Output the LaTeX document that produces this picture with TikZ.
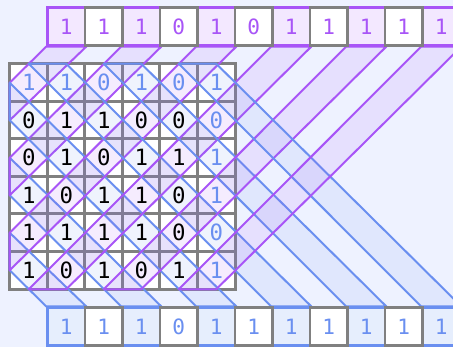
\documentclass[tikz,border=0pt]{standalone}
\usepackage{fontspec}
\setmonofont{DejaVu Sans Mono}
\usetikzlibrary{calc}
\definecolor{Back}{HTML}{EEF2FF}
\definecolor{Grid}{HTML}{808080}
\definecolor{Violet}{HTML}{A855F7}
\definecolor{PaleViolet}{HTML}{F3E8FF}
\definecolor{Cobalt}{HTML}{6A8FF0}
\definecolor{PaleCobalt}{HTML}{E6EEFD}
\pgfdeclarelayer{cells}
\pgfdeclarelayer{bands}
\pgfsetlayers{cells,bands,main}
\tikzset{
  bit/.style={minimum size=1cm,inner sep=0pt,font=\ttfamily\fontsize{17}{17}\selectfont},
  cellframe/.style={draw=Grid,fill=white,line width=2pt},
  sumbox/.style={draw=Grid,fill=white,line width=2pt,minimum size=1cm,inner sep=0pt,font=\ttfamily\fontsize{16}{16}\selectfont},
  topbox/.style={sumbox,text=Violet},
  topmark/.style={topbox,draw=Violet,fill=PaleViolet},
  botbox/.style={sumbox,text=Cobalt},
  botmark/.style={botbox,draw=Cobalt,fill=PaleCobalt},
  antiband/.style={draw=Violet,fill=Violet,fill opacity=.11,line width=1.5pt,line join=round},
  diagband/.style={draw=Cobalt,fill=Cobalt,fill opacity=.1,line width=1.5pt,line join=round}
}

\begin{document}
\begin{tikzpicture}[x=1cm,y=1cm]
  \useasboundingbox (-0.2667,-7.5467) rectangle (11.8133,1.7067);
  % the 6x6 matrix, first row and last column in blue
  \foreach \row [count=\i from 0] in {{1,1,0,1,0,1},{0,1,1,0,0,0},{0,1,0,1,1,1},{1,0,1,1,0,1},{1,1,1,1,0,0},{1,0,1,0,1,1}} {
    \foreach \v [count=\j from 0] in \row {
      \pgfmathtruncatemacro\edge{(\i==0)||(\j==5)}
      \ifnum\edge=1 \def\ink{Cobalt}\else\def\ink{black}\fi
      \node[bit,text=\ink] (m-\i-\j) at (\j+.5,-\i-.5) {\v};
    }
  }
  % sums along the anti-diagonals (top) and diagonals (bottom)
  \foreach \k/\v in {0/1,2/1,4/1,6/1,8/1,10/1} \node[topmark] (t\k) at (\k+1.5,1) {\v};
  \foreach \k/\v in {1/1,3/0,5/0,7/1,9/1} \node[topbox] (t\k) at (\k+1.5,1) {\v};
  \foreach \k/\v in {0/1,2/1,4/1,6/1,8/1,10/1} \node[botmark] (b\k) at (\k+1.5,-7) {\v};
  \foreach \k/\v in {1/1,3/0,5/1,7/1,9/1} \node[botbox] (b\k) at (\k+1.5,-7) {\v};

  \begin{pgfonlayer}{cells}
    \fill[Back] (-0.2667,-7.5467) rectangle (11.8133,1.7067);
    \foreach \i in {0,...,5} \foreach \j in {0,...,5}
      \draw[cellframe] (m-\i-\j.north west) rectangle (m-\i-\j.south east);
  \end{pgfonlayer}

  \begin{pgfonlayer}{bands}
    \foreach \k in {0,2,4} {
      \pgfmathtruncatemacro\n{\k+1}
      \pgfmathtruncatemacro\r{5-\k}
      \pgfmathtruncatemacro\s{4-\k}
      \draw[diagband] (b\k.north west) -- (m-\r-0.west) -- (m-\s-0.west) -- (b\k.north east) -- cycle;
      \draw[antiband] (t\k.south west) -- (m-\k-0.west) -- (m-\n-0.west) -- (t\k.south east) -- cycle;
    }
    \foreach \k in {6,8,10} {
      \pgfmathtruncatemacro\p{\k-6}
      \pgfmathtruncatemacro\q{\k-5}
      \draw[diagband] (b\k.north west) -- (m-0-\p.north) -- (m-0-\q.north) -- (b\k.north east) -- cycle;
      \draw[antiband] (t\k.south west) -- (m-5-\p.south) -- (m-5-\q.south) -- (t\k.south east) -- cycle;
    }
  \end{pgfonlayer}
\end{tikzpicture}
\end{document}
